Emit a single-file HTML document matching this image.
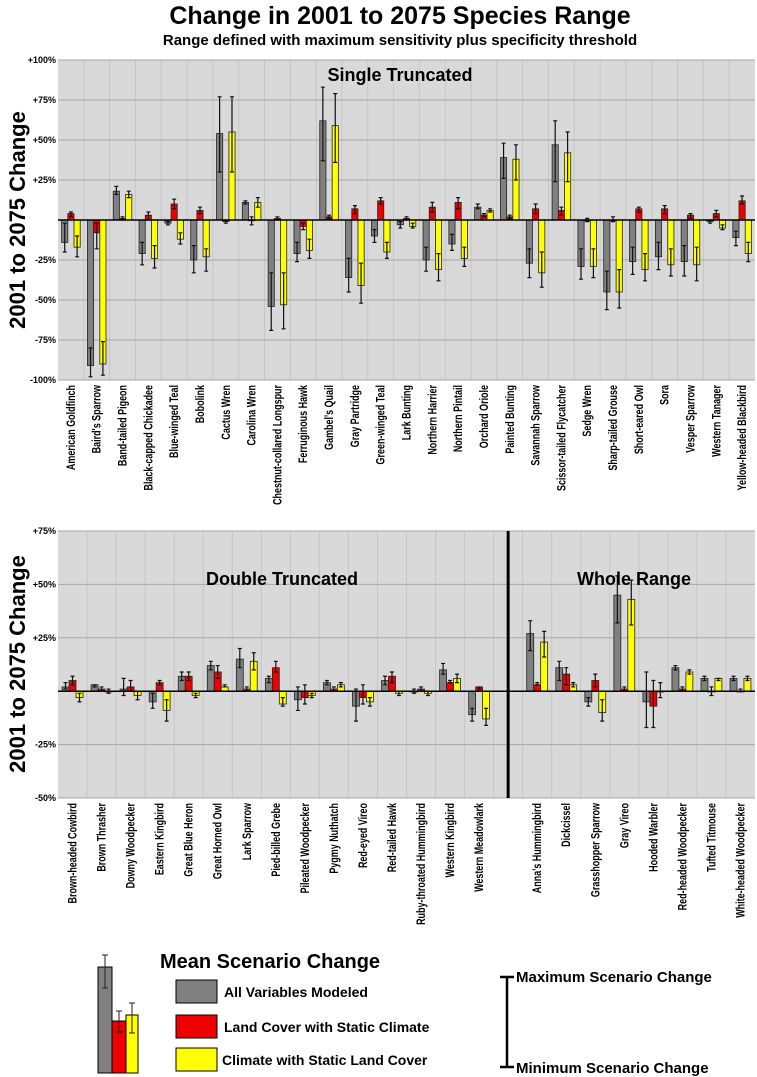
<!DOCTYPE html>
<html><head><meta charset="utf-8">
<style>
html,body{margin:0;padding:0;background:#fff;}
svg{display:block;font-family:"Liberation Sans",sans-serif;}
.b{font-weight:bold;}
</style></head>
<body>
<svg id="chart" width="757" height="1077" viewBox="0 0 757 1077" xmlns="http://www.w3.org/2000/svg">
<text x="400" y="24" text-anchor="middle" class="b" font-size="25">Change in 2001 to 2075 Species Range</text>
<text x="400" y="45" text-anchor="middle" class="b" font-size="15">Range defined with maximum sensitivity plus specificity threshold</text>
<g id="top"></g>
<g id="bot"></g>
<g id="legend">
  <text x="270" y="968" text-anchor="middle" class="b" font-size="20">Mean Scenario Change</text>
  <rect x="176" y="980" width="41" height="23" fill="#808080" stroke="#000"/>
  <text x="224" y="997" class="b" font-size="14">All Variables Modeled</text>
  <rect x="176" y="1015" width="41" height="23" fill="#ee0000" stroke="#000"/>
  <text x="224" y="1032" class="b" font-size="14">Land Cover with Static Climate</text>
  <rect x="176" y="1048" width="41" height="23" fill="#ffff00" stroke="#000"/>
  <text x="222" y="1065" class="b" font-size="14">Climate with Static Land Cover</text>
  <rect x="98" y="967" width="14" height="106" fill="#808080" stroke="#000"/>
  <rect x="112" y="1021" width="14" height="52" fill="#ee0000" stroke="#000"/>
  <rect x="126" y="1015" width="12" height="58" fill="#ffff00" stroke="#000"/>
  <path d="M105 955V988M102 955H108M102 988H108M119 1011V1032M116 1011H122M116 1032H122M132 1003V1033M129 1003H135M129 1033H135" stroke="#222" stroke-width="1"/>
  <path d="M507 977V1067M500 977H514M500 1067H514" stroke="#000" stroke-width="2.5"/>
  <text x="516" y="982" class="b" font-size="15">Maximum Scenario Change</text>
  <text x="516" y="1073" class="b" font-size="15">Minimum Scenario Change</text>
</g>
</svg>
<script>
// ---------- Top panel data ----------
const topCats = ["American Goldfinch","Baird's Sparrow","Band-tailed Pigeon","Black-capped Chickadee","Blue-winged Teal","Bobolink","Cactus Wren","Carolina Wren","Chestnut-collared Longspur","Ferruginous Hawk","Gambel's Quail","Gray Partridge","Green-winged Teal","Lark Bunting","Northern Harrier","Northern Pintail","Orchard Oriole","Painted Bunting","Savannah Sparrow","Scissor-tailed Flycatcher","Sedge Wren","Sharp-tailed Grouse","Short-eared Owl","Sora","Vesper Sparrow","Western Tanager","Yellow-headed Blackbird"];
const topAll = [-14,-91,18,-21,-2,-25,54,11,-54,-21,62,-36,-10,-3,-25,-15,8,39,-27,47,-29,-45,-26,-23,-26,-1,-11];
const topAllLo = [-20,-98,16,-28,-3,-33,30,10,-69,-26,37,-45,-14,-5,-32,-19,7,26,-36,24,-37,-56,-34,-31,-35,-2,-16];
const topAllHi = [-2,-80,21,-14,-1,-16,77,12,-33,-14,83,-24,-6,-1,-17,-9,10,48,-18,62,-18,-32,-17,-14,-16,0,-7];
const topLand = [4,-8,1,3,10,6,-1,0,1,-4,2,7,12,1,8,11,3,2,7,6,0,0,7,7,3,4,12];
const topLandLo = [2,-18,0,0,7,4,-2,-3,0,-6,1,4,10,0,5,7,2,1,4,3,-1,-1,5,4,1,2,10];
const topLandHi = [5,-2,2,5,13,8,0,2,2,-2,3,9,14,2,11,14,4,3,10,8,1,2,8,9,4,6,15];
const topClim = [-17,-90,16,-24,-12,-23,55,11,-53,-19,59,-41,-20,-4,-31,-24,6,38,-33,42,-29,-45,-31,-28,-28,-5,-21];
const topClimLo = [-23,-97,14,-30,-15,-32,30,8,-68,-24,36,-52,-24,-5,-38,-29,5,25,-42,24,-36,-55,-38,-35,-38,-6,-26];
const topClimHi = [-10,-76,18,-16,-8,-18,77,14,-33,-12,79,-27,-14,-2,-21,-17,7,47,-20,55,-18,-31,-21,-18,-17,-3,-14];
const topTicks = [100,75,50,25,0,-25,-50,-75,-100];
const topTickLabels = ["+100%","+75%","+50%","+25%","","-25%","-50%","-75%","-100%"];

// ---------- Bottom panel data ----------
const botCats = ["Brown-headed Cowbird","Brown Thrasher","Downy Woodpecker","Eastern Kingbird","Great Blue Heron","Great Horned Owl","Lark Sparrow","Pied-billed Grebe","Pileated Woodpecker","Pygmy Nuthatch","Red-eyed Vireo","Red-tailed Hawk","Ruby-throated Hummingbird","Western Kingbird","Western Meadowlark","","Anna's Hummingbird","Dickcissel","Grasshopper Sparrow","Gray Vireo","Hooded Warbler","Red-headed Woodpecker","Tufted Titmouse","White-headed Woodpecker"];
const botAll = [2,3,1,-5,7,12,15,6,-4,4,-7,5,0,10,-11,null,27,11,-5,45,-5,11,6,6];
const botAllLo = [1,2,-2,-8,5,10,11,4,-9,3,-14,3,-1,8,-14,null,19,5,-7,32,-17,10,5,5];
const botAllHi = [4,3,6,-1,9,14,20,7,2,5,1,7,1,13,-8,null,33,14,-3,54,9,12,7,7];
const botLand = [5,1,2,4,7,9,1,11,-3,1,-3,7,1,4,2,null,3,8,5,1,-7,1,0,0];
const botLandLo = [3,0,0,3,5,6,0,9,-6,0,-6,4,0,4,1,null,3,3,2,0,-17,0,-2,0];
const botLandHi = [7,2,5,5,9,12,2,14,3,2,3,9,2,5,2,null,4,11,8,2,5,2,2,1];
const botClim = [-3,0,-2,-9,-2,2,14,-6,-2,3,-5,-1,-1,6,-13,null,23,3,-10,43,0,9,6,6];
const botClimLo = [-5,-1,-4,-14,-3,2,10,-7,-3,2,-7,-2,-2,4,-16,null,16,2,-14,31,-3,8,5,5];
const botClimHi = [-1,1,0,-4,-1,3,18,-3,-1,4,-3,0,0,8,-8,null,28,4,-4,52,4,10,6,7];
const botTicks = [75,50,25,0,-25,-50];
const botTickLabels = ["+75%","+50%","+25%","","-25%","-50%"];

const NS = "http://www.w3.org/2000/svg";
function mk(parent, tag, attrs){
  const e = document.createElementNS(NS, tag);
  for (const k in attrs) e.setAttribute(k, attrs[k]);
  parent.appendChild(e); return e;
}

function panel(g, cfg){
  const {x0,x1,y0,y1,vmax,vmin,cats,series,ticks,tickLabels,name} = cfg;
  const n = cats.length, slot = (x1-x0)/n;
  const yS = v => y0 + (vmax - v)/(vmax - vmin)*(y1-y0);
  const xS = i => x0 + i*slot;
  const bg = mk(g,'rect',{x:x0,y:y0,width:x1-x0,height:y1-y0,fill:'#d9d9d9'});
  
  
  for (let i=1;i<n;i++){
    const l = mk(g,'line',{x1:xS(i),x2:xS(i),y1:y0,y2:y1,stroke:'#c6c6c6','stroke-width':1});
    
    
  }
  ticks.forEach((t,k)=>{
    const y = yS(t);
    if (t!==0){
      const l = mk(g,'line',{x1:x0,x2:x1,y1:y,y2:y,stroke:'#a8a8a8','stroke-width':1});
      
      
    }
    const tx = mk(g,'text',{x:x0-2,y:y+3,'text-anchor':'end','font-size':9,'font-weight':'bold'});
    tx.textContent = tickLabels[k];
    
    
  });
  const cols = ['#808080','#ee0000','#ffff00'];
  const sNames = ['all-variables','land-cover','climate'];
  const gw = slot*0.72, bw = gw/3;
  cats.forEach((c,i)=>{
    if (c!==''){
      const cx = xS(i)+slot/2;
      const lt = mk(g,'text',{transform:`translate(${cx+4},${y1+5}) rotate(-90) scale(0.78,1)`,'text-anchor':'end','font-size':11.5,'font-weight':'bold'});
      lt.textContent = c;
      
      
    }
    series.forEach((s,j)=>{
      const v = s.v[i]; if (v===null) return;
      const bx = xS(i)+(slot-gw)/2 + j*bw;
      const ya = yS(Math.max(v,0)), yb = yS(Math.min(v,0));
      const r = mk(g,'rect',{x:bx,y:ya,width:bw,height:Math.max(yb-ya,0.8),fill:cols[j],stroke:'#222','stroke-width':0.8});
      
      
      const ex = bx+bw/2, yl = yS(s.lo[i]), yh = yS(s.hi[i]);
      const e = mk(g,'path',{d:`M${ex} ${yl}V${yh}M${ex-2} ${yl}H${ex+2}M${ex-2} ${yh}H${ex+2}`,stroke:'#111','stroke-width':1.2,fill:'none'});
      
      
    });
  });
  const z = mk(g,'line',{x1:x0,x2:x1,y1:yS(0),y2:yS(0),stroke:'#000','stroke-width':1.5});
  
  
  return {xS,yS,slot};
}

const topG = document.getElementById('top');
panel(topG,{x0:58,x1:755,y0:60,y1:380,vmax:100,vmin:-100,cats:topCats,name:'top',
  series:[{v:topAll,lo:topAllLo,hi:topAllHi},{v:topLand,lo:topLandLo,hi:topLandHi},{v:topClim,lo:topClimLo,hi:topClimHi}],
  ticks:topTicks,tickLabels:topTickLabels});
const botG = document.getElementById('bot');
const bp = panel(botG,{x0:58,x1:755,y0:531,y1:798,vmax:75,vmin:-50,cats:botCats,name:'bottom',
  series:[{v:botAll,lo:botAllLo,hi:botAllHi},{v:botLand,lo:botLandLo,hi:botLandHi},{v:botClim,lo:botClimLo,hi:botClimHi}],
  ticks:botTicks,tickLabels:botTickLabels});
const dx = bp.xS(15)+bp.slot/2;
const div = mk(botG,'line',{x1:dx,x2:dx,y1:531,y2:798,stroke:'#000','stroke-width':3});



function label(g, x, y, txt, size, nm, rot){
  const t = mk(g,'text',{x:x,y:y,'text-anchor':'middle','font-size':size,'font-weight':'bold'});
  if (rot) t.setAttribute('transform',`rotate(-90 ${x} ${y})`);
  t.textContent = txt;
  
  
}
label(topG,400,81,'Single Truncated',18,'top-section-title');
label(botG,282,585,'Double Truncated',18,'double-truncated-title');
label(botG,634,585,'Whole Range',18,'whole-range-title');
label(topG,25,220,'2001 to 2075 Change',22,'top-y-axis-title',true);
label(botG,25,664,'2001 to 2075 Change',22,'bottom-y-axis-title',true);
</script>
</body></html>
